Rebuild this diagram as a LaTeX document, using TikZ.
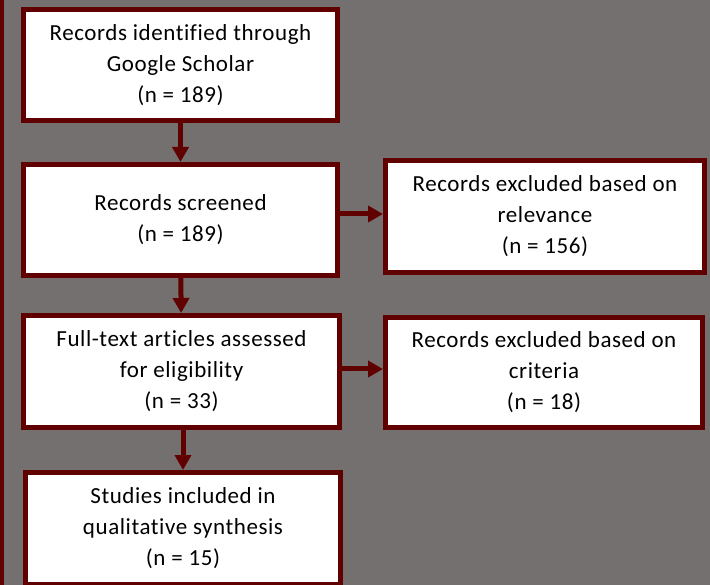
\documentclass[tikz,border=0pt]{standalone}
\usepackage{fontspec}
\setmainfont[Ligatures=NoCommon, LetterSpace=2.5]{Carlito}
\definecolor{prbg}{RGB}{117,112,112}
\definecolor{prmaroon}{RGB}{96,0,0}
\usetikzlibrary{arrows.meta,positioning}
\tikzset{
    stage/.style={
        draw=prmaroon, line width=5pt, fill=white, align=center,
        text=black, font=\fontsize{23}{31}\selectfont,
        minimum width=314pt, minimum height=111pt, inner sep=0pt
    },
    flow/.style={
        -{Triangle[length=15pt,width=16pt]}, line width=5pt, draw=prmaroon
    }
}
\begin{document}
\begin{tikzpicture}[x=1pt, y=-1pt]
    \useasboundingbox (0,0) rectangle (710,585);
    \fill[prbg] (0,0) rectangle (710,585);
    \draw[prmaroon, line width=4pt] (2,0) -- (2,585);
    \node[stage] (ident) at (180.5,65) {Records identified through\\Google Scholar\\(n = 189)};
    \node[stage] (screen) at (180.5,220) {Records screened\\(n = 189)};
    \node[stage, minimum width=316pt, minimum height=112pt] (full) at (181.5,371.5) {Full-text articles assessed\\for eligibility\\(n = 33)};
    \node[stage, minimum width=315pt, minimum height=112pt] (incl) at (183,528.5) {Studies included in\\qualitative synthesis\\(n = 15)};
    \node[stage, minimum width=319pt, minimum height=112pt] (excl1) at (545,216.5) {Records excluded based on\\relevance\\(n = 156)};
    \node[stage, minimum width=317pt, minimum height=110pt] (excl2) at (544,372.5) {Records excluded based on\\criteria\\(n = 18)};
    \draw[flow] (ident) -- (screen);
    \draw[flow] (screen) -- (full);
    \draw[flow] (full.south -| incl.north) -- (incl.north);
    \draw[flow] ([yshift=2.5pt]screen.east |- excl1.west) -- ([yshift=2.5pt]excl1.west);
    \draw[flow] ([yshift=3.5pt]full.east |- excl2.west) -- ([yshift=3.5pt]excl2.west);
\end{tikzpicture}
\end{document}
